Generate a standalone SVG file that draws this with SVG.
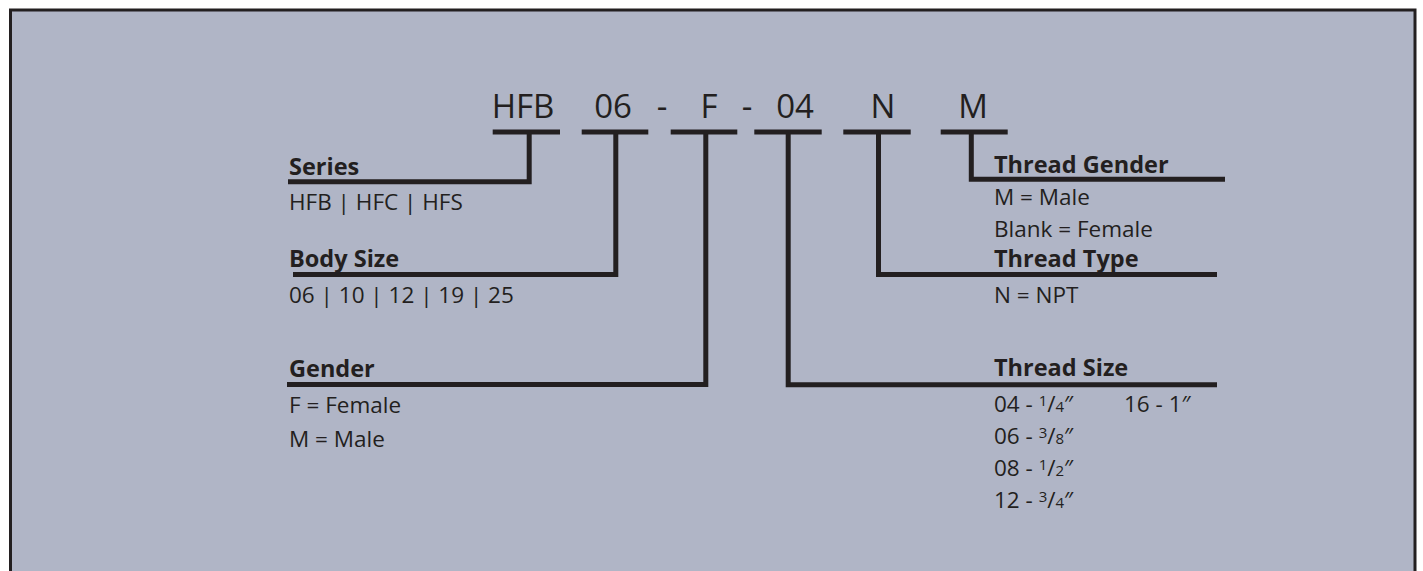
<svg xmlns="http://www.w3.org/2000/svg" width="1423" height="571" viewBox="0 0 1423 571">
<style>
.code{font-family:"Open Sans","Liberation Sans",sans-serif;font-size:33px;fill:#231f20;text-anchor:middle}
.h{font-family:"Open Sans","Liberation Sans",sans-serif;font-size:23.5px;font-weight:bold;fill:#231f20}
.t{font-family:"Open Sans","Liberation Sans",sans-serif;font-size:22.5px;fill:#231f20}
.fr{font-size:15px}
.ln{fill:none;stroke:#231f20;stroke-width:5;stroke-linejoin:miter;stroke-linecap:butt}
</style>
<rect x="0" y="0" width="1423" height="571" fill="#ffffff"/>
<rect x="10.5" y="10" width="1404.5" height="600" fill="#b0b5c6" stroke="#231f20" stroke-width="3"/>
<g id="code">
<text class="code" x="523" y="118">HFB</text>
<text class="code" x="613" y="118">06</text>
<text class="code" x="662" y="118">-</text>
<text class="code" x="709" y="118">F</text>
<text class="code" x="747" y="118">-</text>
<text class="code" x="795" y="118">04</text>
<text class="code" x="883" y="118">N</text>
<text class="code" x="973" y="118">M</text>
</g>
<g id="connectors">
<path class="ln" d="M492.7 132H560M529.2 132V181.8H288"/>
<path class="ln" d="M581.7 132H648.3M615.8 132V274.4H293"/>
<path class="ln" d="M670.7 132H737.3M705.8 132V384.4H287"/>
<path class="ln" d="M754.3 132H821.7M788.2 132V384.8H1217"/>
<path class="ln" d="M843.3 132H910.7M878.5 132V274.6H1217"/>
<path class="ln" d="M940.7 132H1007.7M971.3 132V179.2H1225"/>
</g>
<g id="series">
<text class="h" x="289" y="175">Series</text>
<text class="t" x="289" y="210">HFB | HFC | HFS</text>
</g>
<g id="body-size">
<text class="h" x="289" y="266.7">Body Size</text>
<text class="t" x="289" y="302.7">06 | 10 | 12 | 19 | 25</text>
</g>
<g id="gender">
<text class="h" x="289" y="376.7">Gender</text>
<text class="t" x="289" y="413.3">F = Female</text>
<text class="t" x="289" y="446.7">M = Male</text>
</g>
<g id="thread-gender">
<text class="h" x="994" y="172.7">Thread Gender</text>
<text class="t" x="994" y="205">M = Male</text>
<text class="t" x="994" y="237.3">Blank = Female</text>
</g>
<g id="thread-type">
<text class="h" x="994" y="266.7">Thread Type</text>
<text class="t" x="994" y="302.7">N = NPT</text>
</g>
<g id="thread-size">
<text class="h" x="994" y="376">Thread Size</text>
<text class="t" x="994" y="412.3">04 - <tspan class="fr" dy="-6">1</tspan><tspan dy="6">/</tspan><tspan class="fr">4</tspan>″</text>
<text class="t" x="1124" y="412.3">16 - 1″</text>
<text class="t" x="994" y="444.3">06 - <tspan class="fr" dy="-6">3</tspan><tspan dy="6">/</tspan><tspan class="fr">8</tspan>″</text>
<text class="t" x="994" y="476">08 - <tspan class="fr" dy="-6">1</tspan><tspan dy="6">/</tspan><tspan class="fr">2</tspan>″</text>
<text class="t" x="994" y="507.7">12 - <tspan class="fr" dy="-6">3</tspan><tspan dy="6">/</tspan><tspan class="fr">4</tspan>″</text>
</g>
</svg>
